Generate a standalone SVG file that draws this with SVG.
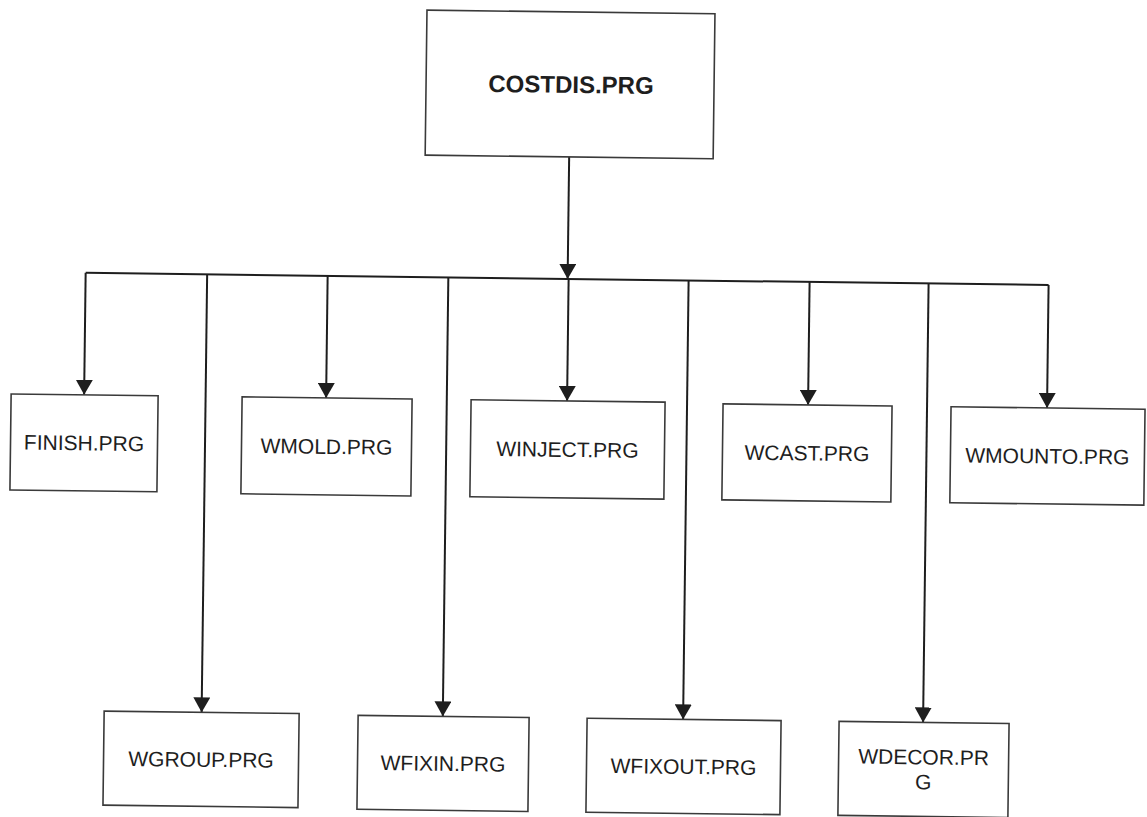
<svg xmlns="http://www.w3.org/2000/svg" width="1147" height="817" viewBox="0 0 1147 817">
  <defs>
    <style>
      .box { fill: #ffffff; stroke: #3a3a3a; stroke-width: 1.6; }
      .lbl { font-family: "Liberation Sans", Arial, sans-serif; font-size: 21px; fill: #1e1e1e; text-anchor: middle; }
      .title { font-family: "Liberation Sans", Arial, sans-serif; font-size: 24px; font-weight: bold; fill: #1e1e1e; text-anchor: middle; }
      .conn { fill: none; stroke: #1e1e1e; stroke-width: 2; }
    </style>
    <marker id="arrow" markerUnits="userSpaceOnUse" markerWidth="15" markerHeight="17" viewBox="0 0 15 17" refX="15" refY="8.5" orient="auto">
      <path d="M0,0 L15,8.5 L0,17 z" fill="#1e1e1e"/>
    </marker>
  </defs>
  <rect x="0" y="0" width="1147" height="817" fill="#ffffff"/>
  <g transform="rotate(0.72 573 408)">
    <g id="connectors">
      <path class="conn" d="M566,157 V279" marker-end="url(#arrow)"/>
      <path class="conn" d="M84,279 H1047"/>
      <path class="conn" d="M84,279 V401" marker-end="url(#arrow)"/>
      <path class="conn" d="M326,279 V401" marker-end="url(#arrow)"/>
      <path class="conn" d="M567,279 V401" marker-end="url(#arrow)"/>
      <path class="conn" d="M808,279 V402" marker-end="url(#arrow)"/>
      <path class="conn" d="M1047,279 V402" marker-end="url(#arrow)"/>
      <path class="conn" d="M205.5,279 V717" marker-end="url(#arrow)"/>
      <path class="conn" d="M446.7,279 V718" marker-end="url(#arrow)"/>
      <path class="conn" d="M687,279 V718" marker-end="url(#arrow)"/>
      <path class="conn" d="M927,279 V718" marker-end="url(#arrow)"/>
    </g>
    <g id="costdis">
      <rect class="box" x="422" y="12" width="288" height="145"/>
      <text class="title" x="567" y="93">COSTDIS.PRG</text>
    </g>
    <g id="finish">
      <rect class="box" x="11" y="401" width="147" height="96"/>
      <text class="lbl" x="84.5" y="456.5">FINISH.PRG</text>
    </g>
    <g id="wmold">
      <rect class="box" x="242" y="401" width="170" height="97"/>
      <text class="lbl" x="327" y="457">WMOLD.PRG</text>
    </g>
    <g id="winject">
      <rect class="box" x="471" y="401" width="194" height="97"/>
      <text class="lbl" x="568" y="457">WINJECT.PRG</text>
    </g>
    <g id="wcast">
      <rect class="box" x="723" y="402" width="169" height="96"/>
      <text class="lbl" x="807.5" y="457.5">WCAST.PRG</text>
    </g>
    <g id="wmounto">
      <rect class="box" x="951" y="402" width="194" height="96"/>
      <text class="lbl" x="1048" y="457.5">WMOUNTO.PRG</text>
    </g>
    <g id="wgroup">
      <rect class="box" x="108" y="717" width="195" height="94"/>
      <text class="lbl" x="205.5" y="771.5">WGROUP.PRG</text>
    </g>
    <g id="wfixin">
      <rect class="box" x="362" y="718" width="171" height="94"/>
      <text class="lbl" x="447.5" y="772.5">WFIXIN.PRG</text>
    </g>
    <g id="wfixout">
      <rect class="box" x="591" y="718" width="194" height="94"/>
      <text class="lbl" x="688" y="772.5">WFIXOUT.PRG</text>
    </g>
    <g id="wdecor">
      <rect class="box" x="843" y="718" width="170" height="94"/>
      <text class="lbl" x="928" y="760">WDECOR.PR</text>
      <text class="lbl" x="928" y="785">G</text>
    </g>
  </g>
</svg>
